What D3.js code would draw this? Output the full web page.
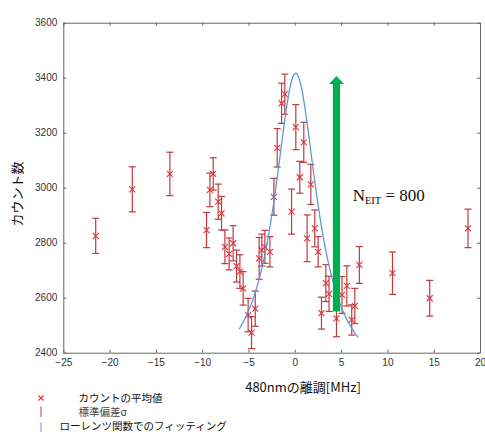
<!DOCTYPE html>
<html>
<head>
<meta charset="utf-8">
<script src="https://cdn.jsdelivr.net/npm/d3@7"></script>
<style>
  html, body { margin: 0; padding: 0; background: #fff; }
</style>
</head>
<body>
<div id="chart"></div>
<script>
// values
const detuning = [-21.5, -17.55, -13.49,
  -9.53, -9.17, -8.81, -8.27, -7.91, -7.55, -7.09, -6.66, -6.29, -5.93,
  -5.58, -5.04, -4.67, -4.27, -3.85, -3.56, -3.23, -2.69, -2.26, -1.9,
  -1.43, -1.08, -0.35, 0.11, 0.54, 0.97, 1.33, 1.73, 2.16, 2.52,
  2.88, 3.35, 3.7, 4.5, 5.1, 5.62, 6.15, 6.48, 6.97,
  10.55, 14.57, 18.7]
const counts = [2825, 2994, 3050,
  2846, 2992, 3050, 2949, 2907, 2785, 2759, 2798, 2715, 2695,
  2634, 2537, 2473, 2560, 2743, 2773, 2785, 2767, 2967, 3145,
  3307, 3340, 2913, 3220, 3038, 3165, 2816, 3012, 2852, 2767,
  2544, 2653, 2614, 2525, 2610, 2643, 2519, 2570, 2719,
  2689, 2598, 2852]
const sigma = [64, 82, 79,
  64, 61, 59, 64, 61, 61, 58, 64, 58, 61,
  61, 61, 58, 64, 76, 58, 60, 55, 67, 70,
  73, 73, 82, 82, 58, 73, 85, 73, 67, 55,
  58, 67, 64, 67, 67, 73, 55, 64, 67,
  77, 65, 70]

// lorentzian fit: center, half width, amplitude, offset
const fitCenter = 0.1
const fitGamma = 2.81
const fitAmp = 1127
const fitOffset = 2289
const fitRange = [-6.0, 6.85]

const xTicks = [-25, -20, -15, -10, -5, 0, 5, 10, 15, 20]
const yTicks = [2400, 2600, 2800, 3000, 3200, 3400, 3600]

const arrowX = 4.5
const arrowFrom = 2550
const arrowTo = 3406

const legendLabels = ['カウントの平均値', '標準偏差σ', 'ローレンツ関数でのフィッティング']

const W = 485, H = 433
const m = {left: 63.3, top: 22.7, right: 5, bottom: 80.3}
const pw = W - m.left - m.right
const ph = H - m.top - m.bottom

const red = '#c0393f'
const redMark = '#e0333a'
const blue = '#5b9bd5'
const green = '#00b050'
const axisCol = '#666'

const svg = d3.select('#chart')
  .append('svg')
  .attr('width', W)
  .attr('height', H)

const x = d3.scaleLinear().domain([-25, 20]).range([m.left, m.left + pw])
const y = d3.scaleLinear().domain([2400, 3600]).range([m.top + ph, m.top])

// axes, ticks pointing inward on all four sides
const axB = svg.append('g')
  .attr('transform', `translate(0,${m.top + ph})`)
  .call(d3.axisBottom(x).tickValues(xTicks).tickSizeInner(-3).tickSizeOuter(0).tickPadding(6)
    .tickFormat(d => d < 0 ? '\u2212' + Math.abs(d) : d))
const axT = svg.append('g')
  .attr('transform', `translate(0,${m.top})`)
  .call(d3.axisTop(x).tickValues(xTicks).tickSizeInner(-3).tickSizeOuter(0).tickFormat(''))
const axL = svg.append('g')
  .attr('transform', `translate(${m.left},0)`)
  .call(d3.axisLeft(y).tickValues(yTicks).tickSizeInner(-3).tickSizeOuter(0).tickPadding(6)
    .tickFormat(d3.format('d')))
const axR = svg.append('g')
  .attr('transform', `translate(${m.left + pw},0)`)
  .call(d3.axisRight(y).tickValues(yTicks).tickSizeInner(-3).tickSizeOuter(0).tickFormat(''))

;[axB, axT, axL, axR].forEach(a => {
  a.attr('font-family', '"Liberation Sans", Arial, sans-serif').attr('font-size', 10)
  a.select('.domain').attr('stroke', axisCol).attr('stroke-width', 1)
  a.selectAll('line').attr('stroke', axisCol)
  a.selectAll('text').attr('fill', '#333')
})

// error bars
const eb = svg.append('g')
  .selectAll('g')
  .data(detuning)
  .enter()
  .append('g')
  .attr('stroke', red)
  .attr('stroke-width', 1.2)

eb.append('line')
  .attr('x1', d => x(d)).attr('x2', d => x(d))
  .attr('y1', (d, i) => y(counts[i] - sigma[i]))
  .attr('y2', (d, i) => y(counts[i] + sigma[i]))
eb.append('line')
  .attr('x1', d => x(d) - 3.5).attr('x2', d => x(d) + 3.5)
  .attr('y1', (d, i) => y(counts[i] + sigma[i]))
  .attr('y2', (d, i) => y(counts[i] + sigma[i]))
eb.append('line')
  .attr('x1', d => x(d) - 3.5).attr('x2', d => x(d) + 3.5)
  .attr('y1', (d, i) => y(counts[i] - sigma[i]))
  .attr('y2', (d, i) => y(counts[i] - sigma[i]))

// x markers
svg.append('g')
  .selectAll('path')
  .data(detuning)
  .enter()
  .append('path')
  .attr('d', (d, i) => {
    const cx = x(d), cy = y(counts[i]), s = 3
    return `M${cx - s},${cy - s}L${cx + s},${cy + s}M${cx - s},${cy + s}L${cx + s},${cy - s}`
  })
  .attr('stroke', redMark)
  .attr('stroke-width', 1.1)
  .attr('fill', 'none')

// lorentzian fit curve
const lorentz = v => fitOffset + fitAmp / (1 + Math.pow((v - fitCenter) / fitGamma, 2))
const fitX = d3.range(fitRange[0], fitRange[1] + 0.001, 0.05)
svg.append('path')
  .datum(fitX)
  .attr('d', d3.line().x(d => x(d)).y(d => y(lorentz(d))))
  .attr('fill', 'none')
  .attr('stroke', blue)
  .attr('stroke-width', 1.3)

// green arrow
const ax = x(arrowX)
const headBase = y(arrowTo) + 8
svg.append('path')
  .attr('d', `M${ax - 3.6},${y(arrowFrom)}L${ax - 3.6},${headBase}L${ax - 7.5},${headBase}` +
    `L${ax},${y(arrowTo)}L${ax + 7.5},${headBase}L${ax + 3.6},${headBase}L${ax + 3.6},${y(arrowFrom)}Z`)
  .attr('fill', green)

const nt = svg.append('text')
  .attr('x', x(6.25))
  .attr('y', y(2950))
  .style('font-family', '"Liberation Serif", "DejaVu Serif", serif')
  .style('font-size', '17px')
  .attr('fill', '#111')
nt.append('tspan').text('N')
nt.append('tspan').text('EIT').style('font-size', '10.5px').attr('dy', 3)
nt.append('tspan').text(' = 800').attr('dy', -3)

// axis titles
svg.append('text')
  .attr('transform', `translate(22,${194}) rotate(-90)`)
  .attr('text-anchor', 'middle')
  .style('font-family', '"Noto Sans CJK JP", sans-serif')
  .style('font-size', '13px')
  .attr('fill', '#111')
  .text('カウント数')

svg.append('text')
  .attr('x', 303)
  .attr('y', 391.5)
  .attr('text-anchor', 'middle')
  .style('font-family', '"Noto Sans CJK JP", sans-serif')
  .style('font-size', '13px')
  .attr('fill', '#111')
  .text('480nmの離調[MHz]')

// legend
const lg = svg.append('g')
lg.append('path')
  .attr('d', 'M38.5,395.5L43.5,400.5M38.5,400.5L43.5,395.5')
  .attr('stroke', redMark).attr('stroke-width', 1.1)
lg.append('line').attr('x1', 41).attr('x2', 41).attr('y1', 406.5).attr('y2', 417)
  .attr('stroke', red).attr('stroke-width', 1)
lg.append('line').attr('x1', 41).attr('x2', 41).attr('y1', 422.5).attr('y2', 432)
  .attr('stroke', blue).attr('stroke-width', 1)

lg.selectAll('text')
  .data(legendLabels)
  .enter()
  .append('text')
  .attr('x', (d, i) => i === 2 ? 59.5 : 78.5)
  .attr('y', (d, i) => 402 + i * 14.2)
  .style('font-family', '"Noto Sans CJK JP", sans-serif')
  .style('font-size', '10.5px')
  .attr('fill', (d, i) => i === 1 ? '#444' : '#111')
  .text(d => d)
</script>
</body>
</html>
